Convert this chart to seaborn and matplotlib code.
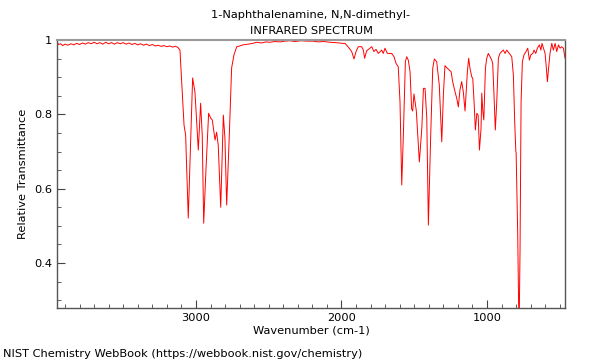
import numpy as np
import pandas as pd
import seaborn as sns
import matplotlib
matplotlib.use('Agg')
import matplotlib.pyplot as plt
from matplotlib.ticker import MultipleLocator, FuncFormatter

title = '1-Naphthalenamine, N,N-dimethyl-\nINFRARED SPECTRUM'
footer = 'NIST Chemistry WebBook (https://webbook.nist.gov/chemistry)'

# flat region above 3100 cm-1
wn_high = [3955, 3945, 3930, 3915, 3900, 3880, 3860, 3840, 3820, 3800, 3780, 3760,
           3740, 3720, 3700, 3680, 3660, 3640, 3620, 3600, 3580, 3560, 3540, 3520,
           3500, 3480, 3460, 3440, 3420, 3400, 3380, 3360, 3340, 3320, 3300, 3280,
           3260, 3240, 3220, 3200, 3180, 3160, 3140, 3124]
tr_high = [0.996, 0.988, 0.990, 0.985, 0.989, 0.986, 0.990, 0.987, 0.991, 0.988, 0.992, 0.989,
           0.993, 0.990, 0.994, 0.990, 0.993, 0.989, 0.994, 0.990, 0.993, 0.989, 0.993, 0.990,
           0.993, 0.989, 0.992, 0.988, 0.991, 0.987, 0.990, 0.986, 0.989, 0.985, 0.988, 0.984,
           0.986, 0.983, 0.985, 0.982, 0.984, 0.981, 0.983, 0.980]

# C-H stretch band and the quiet region up to 2000 cm-1
wn_ch = [3110, 3082, 3071, 3053, 3041, 3023, 3007, 2984, 2968, 2957, 2947, 2931,
         2913, 2899, 2888, 2869, 2858, 2847, 2830, 2812, 2801, 2789, 2771, 2755,
         2739, 2720, 2700, 2677, 2640, 2610, 2583, 2550, 2520, 2491, 2460, 2420,
         2390, 2354, 2320, 2280, 2240, 2196, 2160, 2120, 2079, 2040, 1990]
tr_ch = [0.973, 0.771, 0.744, 0.521, 0.672, 0.898, 0.860, 0.704, 0.830, 0.744, 0.507, 0.655,
         0.803, 0.790, 0.785, 0.731, 0.752, 0.717, 0.550, 0.798, 0.736, 0.556, 0.744, 0.925,
         0.960, 0.982, 0.984, 0.987, 0.989, 0.991, 0.994, 0.992, 0.995, 0.994, 0.996, 0.995,
         0.997, 0.998, 0.996, 0.998, 0.997, 0.997, 0.995, 0.996, 0.994, 0.993, 0.991]

# fingerprint region
wn_fp = [1976, 1955, 1930, 1914, 1900, 1885, 1861, 1850, 1841, 1827, 1792, 1777,
         1763, 1747, 1724, 1713, 1701, 1685, 1655, 1639, 1625, 1610, 1598, 1586,
         1575, 1561, 1552, 1541, 1529, 1518, 1511, 1502, 1486, 1465, 1448, 1437,
         1426, 1414, 1403, 1387, 1373, 1362, 1346, 1328, 1311, 1300, 1289, 1273,
         1259, 1247, 1236, 1220, 1208, 1197, 1186, 1174, 1163, 1151, 1135, 1126,
         1117, 1105, 1098, 1089, 1080, 1070, 1061, 1052, 1041, 1036, 1029, 1022,
         1011, 1002, 991, 979, 968, 961, 952, 943, 933, 922, 911, 899,
         888, 876, 865, 847, 830, 819, 809, 802, 800, 789, 780, 773,
         766, 757, 746, 732, 720, 709, 699, 685, 677, 665, 654, 640,
         630, 622, 612, 601, 594, 585, 575, 567, 555, 544, 532, 521,
         509, 498, 487, 475, 464]
tr_fp = [0.991, 0.982, 0.969, 0.949, 0.969, 0.982, 0.982, 0.973, 0.951, 0.971, 0.982, 0.969,
         0.975, 0.964, 0.973, 0.964, 0.978, 0.964, 0.964, 0.955, 0.937, 0.928, 0.834, 0.610,
         0.744, 0.942, 0.955, 0.946, 0.915, 0.815, 0.809, 0.855, 0.810, 0.672, 0.763, 0.870,
         0.870, 0.790, 0.502, 0.744, 0.924, 0.949, 0.942, 0.879, 0.726, 0.852, 0.931, 0.924,
         0.919, 0.915, 0.888, 0.861, 0.843, 0.820, 0.866, 0.888, 0.861, 0.809, 0.915, 0.951,
         0.924, 0.901, 0.897, 0.834, 0.758, 0.803, 0.798, 0.704, 0.763, 0.857, 0.809, 0.785,
         0.924, 0.951, 0.964, 0.955, 0.946, 0.937, 0.852, 0.758, 0.834, 0.951, 0.964, 0.969,
         0.973, 0.964, 0.973, 0.964, 0.955, 0.906, 0.771, 0.700, 0.697, 0.477, 0.200, 0.439,
         0.834, 0.942, 0.960, 0.969, 0.978, 0.946, 0.960, 0.964, 0.973, 0.964, 0.978, 0.987,
         0.973, 0.991, 0.978, 0.964, 0.933, 0.888, 0.933, 0.964, 0.991, 0.973, 0.991, 0.969,
         0.987, 0.978, 0.982, 0.978, 0.951]

df = pd.DataFrame({'wavenumber': wn_high + wn_ch + wn_fp,
                   'transmittance': tr_high + tr_ch + tr_fp})

sns.set_style('ticks')
plt.rcParams['font.family'] = ['DejaVu Sans']
plt.rcParams['text.color'] = 'black'
plt.rcParams['axes.labelcolor'] = 'black'

fig = plt.figure(figsize=(6, 3.6), dpi=100)
ax = fig.add_axes([0.095, 0.1444, 0.8467, 0.7444])
sns.lineplot(data=df, x='wavenumber', y='transmittance', sort=False,
             estimator=None, color='red', linewidth=0.7, ax=ax)

ax.set_xlim(3955, 464)
ax.set_ylim(0.279, 1.0)
ax.xaxis.set_major_locator(MultipleLocator(1000))
ax.xaxis.set_minor_locator(MultipleLocator(100))
ax.yaxis.set_major_locator(MultipleLocator(0.2))
ax.yaxis.set_minor_locator(MultipleLocator(0.05))
ax.yaxis.set_major_formatter(FuncFormatter(lambda v, p: '%g' % round(v, 3)))
ax.tick_params(which='both', direction='in', colors='#444444', labelcolor='black',
               labelsize=8.2, top=False, right=False)
ax.tick_params(which='major', length=6)
ax.tick_params(which='minor', length=3)
for s in ax.spines.values():
    s.set_color('#555555')
    s.set_linewidth(1)
ax.spines['top'].set_color('#999999')
ax.spines['top'].set_linewidth(1.5)

ax.set_xlabel('Wavenumber (cm-1)', fontsize=8.2, labelpad=2)
ax.set_ylabel('Relative Transmittance', fontsize=8.2, labelpad=4)
ax.set_title(title, fontsize=8.2, linespacing=1.75, pad=4, color='black')
fig.text(0.005, 0.008, footer, fontsize=8.2, color='black')

fig.savefig('out.png', dpi=100)
